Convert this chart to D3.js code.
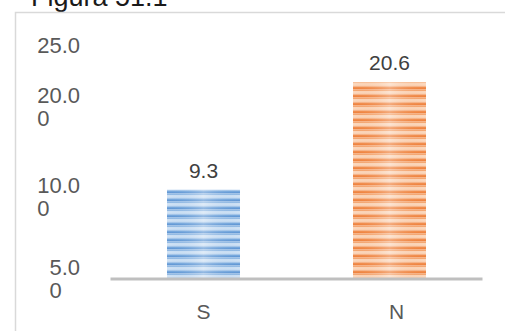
<!DOCTYPE html>
<html>
<head>
<meta charset="utf-8">
<script src="https://cdn.jsdelivr.net/npm/d3@7/dist/d3.min.js"></script>
<style>
  html, body { margin: 0; padding: 0; background: #ffffff; }
  svg { display: block; }
  text { font-family: "Liberation Sans", Arial, sans-serif; }
</style>
</head>
<body>
<div id="chart"></div>
<script>
// Figure data
const categories = ["S", "N"];
const values = [9.3, 20.6];
const valueLabels = ["9.3", "20.6"];
const tickValues = [25, 20, 10, 5];
const tickLabels = [["25.0"], ["20.0", "0"], ["10.0", "0"], ["5.0", "0"]];
const titleText = "Figura 51.1";

const W = 505, H = 331;
const svg = d3.select("#chart").append("svg")
  .attr("width", W).attr("height", H);

const defs = svg.append("defs");

// Striped fills with a soft lighter centre
function stripeFill(id, rows, glow) {
  const p = defs.append("pattern")
    .attr("id", id + "-stripes")
    .attr("patternUnits", "userSpaceOnUse")
    .attr("width", 10).attr("height", 8);
  let yy = 0;
  rows.forEach(([h, c]) => {
    p.append("rect").attr("x", 0).attr("y", yy).attr("width", 10).attr("height", h).attr("fill", c);
    yy += h;
  });
  const g = defs.append("linearGradient").attr("id", id + "-glow")
    .attr("x1", 0).attr("x2", 1).attr("y1", 0).attr("y2", 0);
  g.append("stop").attr("offset", "0%").attr("stop-color", glow).attr("stop-opacity", 0);
  g.append("stop").attr("offset", "50%").attr("stop-color", "#ffffff").attr("stop-opacity", 0.3);
  g.append("stop").attr("offset", "100%").attr("stop-color", glow).attr("stop-opacity", 0);
}
stripeFill("blue", [[1.5, "#6499d5"], [2, "#95bbe4"], [2, "#d2e3f5"], [1, "#abc9eb"], [1.5, "#76a7dc"]], "#5b9bd5");
stripeFill("orange", [[1.5, "#ef8441"], [2, "#f4a874"], [2, "#fbd9bf"], [1, "#f6b98e"], [1.5, "#f08d4e"]], "#ed7d31");
const fillIds = ["blue", "orange"];

// Title (sits above the frame, partly cut by the top edge)
svg.append("text")
  .attr("x", 31).attr("y", 6)
  .attr("font-size", 27)
  .attr("fill", "#1a1a1a")
  .text(titleText);

// Chart frame
svg.append("rect")
  .attr("x", 15.5).attr("y", 12.5)
  .attr("width", W + 10).attr("height", H + 10)
  .attr("fill", "none")
  .attr("stroke", "#d9d9d9")
  .attr("stroke-width", 1.5);

// Scales
const x = d3.scaleBand()
  .domain(categories)
  .range([110.5, 482.5])
  .paddingInner(0.6075)
  .paddingOuter(0.30375);

const y = d3.scaleLinear()
  .domain([0, 25])
  .range([278, 40.5]);

// Bars
categories.forEach((c, i) => {
  const bx = x(c), bw = x.bandwidth();
  const by = y(values[i]), bh = y(0) - y(values[i]);
  svg.append("rect")
    .attr("x", bx).attr("y", by).attr("width", bw).attr("height", bh)
    .attr("fill", `url(#${fillIds[i]}-stripes)`);
  svg.append("rect")
    .attr("x", bx).attr("y", by).attr("width", bw).attr("height", bh)
    .attr("fill", `url(#${fillIds[i]}-glow)`);
  // Value label
  svg.append("text")
    .attr("x", bx + bw / 2)
    .attr("y", by - 12)
    .attr("text-anchor", "middle")
    .attr("font-size", 21)
    .attr("fill", "#404040")
    .text(valueLabels[i]);
});

// Category axis line
svg.append("line")
  .attr("x1", x.range()[0]).attr("x2", x.range()[1])
  .attr("y1", y(0) + 1).attr("y2", y(0) + 1)
  .attr("stroke", "#bfbfbf")
  .attr("stroke-width", 3);

// Category labels
const catNudge = [0, 7];
categories.forEach((c, i) => {
  svg.append("text")
    .attr("x", x(c) + x.bandwidth() / 2 + catNudge[i])
    .attr("y", 319)
    .attr("text-anchor", "middle")
    .attr("font-size", 21)
    .attr("fill", "#595959")
    .text(c);
});

// Value axis labels (wrapped onto two lines)
const tickNudge = [4.5, 7, 2, 36.5];
const labelRight = 80;
tickValues.forEach((v, i) => {
  const lines = tickLabels[i];
  const base = y(v) + tickNudge[i] + 8;
  const first = svg.append("text")
    .attr("x", labelRight)
    .attr("y", base)
    .attr("text-anchor", "end")
    .attr("font-size", 22)
    .attr("textLength", null)
    .attr("fill", "#595959")
    .text(lines[0]);
  const w = first.node().getComputedTextLength();
  lines.slice(1).forEach((ln, j) => {
    svg.append("text")
      .attr("x", labelRight - w)
      .attr("y", base + 23 * (j + 1))
      .attr("text-anchor", "start")
      .attr("font-size", 22)
      .attr("fill", "#595959")
      .text(ln);
  });
});
</script>
</body>
</html>
